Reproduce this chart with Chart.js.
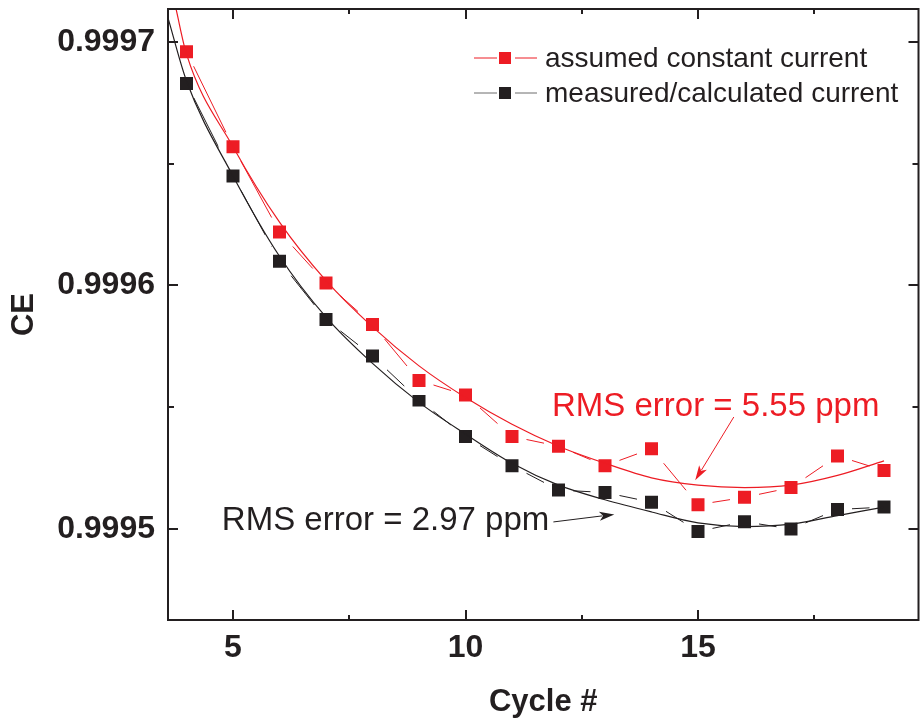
<!DOCTYPE html>
<html>
<head>
<meta charset="utf-8">
<title>CE vs cycle</title>
<script src="https://cdn.jsdelivr.net/npm/chart.js@4.4.1/dist/chart.umd.min.js"></script>
<style>
  html, body { margin: 0; padding: 0; background: #fff; }
  #wrap { width: 920px; height: 721px; }
</style>
</head>
<body>
<div id="wrap"><canvas id="chart" width="920" height="721"></canvas></div>
<script>
// measured points
const cycles = [4, 5, 6, 7, 8, 9, 10, 11, 12, 13, 14, 15, 16, 17, 18, 19];
const ceConstant = [0.999696, 0.999657, 0.999622, 0.999601, 0.999584, 0.999561, 0.999555, 0.999538,
                    0.999534, 0.999526, 0.999533, 0.999510, 0.999513, 0.999517, 0.999530, 0.999524];
const ceMeasured = [0.999683, 0.999645, 0.999610, 0.999586, 0.999571, 0.999553, 0.999538, 0.999526,
                    0.999516, 0.999515, 0.999511, 0.999499, 0.999503, 0.999500, 0.999508, 0.999509];

// fitted curves
const fitConstantX = [3.77, 4, 5, 6, 7, 8, 9, 10, 11, 12, 13, 14, 15, 16, 17, 18, 19];
const fitConstantY = [0.999714, 0.999695, 0.999657, 0.999626, 0.999602, 0.999583, 0.999567, 0.999554,
                      0.999543, 0.999534, 0.999527, 0.999521, 0.999518, 0.999517, 0.999518, 0.999522, 0.999528];
const fitMeasuredX = [3.6, 4, 5, 6, 7, 8, 9, 10, 11, 12, 13, 14, 15, 16, 17, 18, 19];
const fitMeasuredY = [0.999710, 0.999684, 0.999645, 0.999612, 0.999587, 0.999568, 0.999552, 0.999539,
                      0.999527, 0.999518, 0.999512, 0.999507, 0.9995025, 0.999501, 0.999502, 0.9995055, 0.999509];

// axis ticks
const xMajor = [5, 10, 15];
const xMinor = [7.5, 12.5, 17.5];
const yMajor = [0.9995, 0.9996, 0.9997];
const yMajorLabels = ['0.9995', '0.9996', '0.9997'];
const yMinor = [0.99955, 0.99965];

const RED = '#ed1c24';
const INK = '#231f20';
const FONT = '"Liberation Sans", Arial, Helvetica, sans-serif';

const toPoints = (xs, ys) => xs.map((x, i) => ({ x, y: ys[i] }));

function tickList(major, minor) {
  return major.map((v) => ({ value: v, major: true }))
    .concat(minor.map((v) => ({ value: v, major: false })))
    .sort((a, b) => a.value - b.value);
}

// annotations in data coordinates
const notes = [
  { text: 'RMS error = 5.55 ppm', color: RED, at: [11.86, 0.99955], from: [15.77, 0.999546], to: [14.94, 0.99952] },
  { text: 'RMS error = 2.97 ppm', color: INK, at: [4.76, 0.9995033], from: [11.89, 0.9995029], to: [13.2, 0.999506] },
];

const legendItems = [
  { label: 'assumed constant current', color: RED, line: RED },
  { label: 'measured/calculated current', color: INK, line: '#6d6d6d' },
];

function arrow(ctx, x0, y0, x1, y1, color) {
  const ang = Math.atan2(y1 - y0, x1 - x0);
  const len = 15, half = 4.5;
  ctx.strokeStyle = color;
  ctx.fillStyle = color;
  ctx.lineWidth = 1;
  ctx.beginPath();
  ctx.moveTo(x0, y0);
  ctx.lineTo(x1 - Math.cos(ang) * len * 0.8, y1 - Math.sin(ang) * len * 0.8);
  ctx.stroke();
  ctx.beginPath();
  ctx.moveTo(x1, y1);
  ctx.lineTo(x1 - Math.cos(ang) * len - Math.sin(ang) * half, y1 - Math.sin(ang) * len + Math.cos(ang) * half);
  ctx.lineTo(x1 - Math.cos(ang) * len * 0.75, y1 - Math.sin(ang) * len * 0.75);
  ctx.lineTo(x1 - Math.cos(ang) * len + Math.sin(ang) * half, y1 - Math.sin(ang) * len - Math.cos(ang) * half);
  ctx.closePath();
  ctx.fill();
}

const framePlugin = {
  id: 'frame',
  afterDraw(chart) {
    const { ctx, chartArea: a, scales: { x, y } } = chart;
    ctx.save();

    // box with inward ticks on all sides
    ctx.strokeStyle = INK;
    ctx.lineWidth = 2;
    ctx.strokeRect(a.left, a.top, a.right - a.left, a.bottom - a.top);
    ctx.beginPath();
    x.ticks.forEach((t) => {
      const px = Math.round(x.getPixelForValue(t.value));
      const len = t.major ? 10 : 5;
      ctx.moveTo(px, a.bottom); ctx.lineTo(px, a.bottom - len);
      ctx.moveTo(px, a.top); ctx.lineTo(px, a.top + len);
    });
    y.ticks.forEach((t) => {
      const py = Math.round(y.getPixelForValue(t.value));
      const len = t.major ? 10 : 6;
      ctx.moveTo(a.left, py); ctx.lineTo(a.left + len, py);
      ctx.moveTo(a.right, py); ctx.lineTo(a.right - len, py);
    });
    ctx.stroke();

    // legend
    ctx.font = '28px ' + FONT;
    ctx.textBaseline = 'middle';
    ctx.textAlign = 'left';
    legendItems.forEach((it, i) => {
      const ly = a.top + 49 + i * 35;
      const lx = a.left + 306;
      ctx.strokeStyle = it.line;
      ctx.lineWidth = 1;
      ctx.beginPath();
      ctx.moveTo(lx, ly); ctx.lineTo(lx + 23, ly);
      ctx.moveTo(lx + 41, ly); ctx.lineTo(lx + 63, ly);
      ctx.stroke();
      ctx.fillStyle = it.color;
      ctx.fillRect(lx + 25, ly - 6, 12, 12);
      ctx.fillStyle = INK;
      ctx.fillText(it.label, lx + 71, ly + 1);
    });

    // RMS notes and arrows
    ctx.font = '33px ' + FONT;
    notes.forEach((n) => {
      ctx.fillStyle = n.color;
      ctx.fillText(n.text, x.getPixelForValue(n.at[0]), y.getPixelForValue(n.at[1]));
      arrow(ctx,
        x.getPixelForValue(n.from[0]), y.getPixelForValue(n.from[1]),
        x.getPixelForValue(n.to[0]), y.getPixelForValue(n.to[1]), n.color);
    });
    ctx.restore();
  },
};

const dataStyle = (color) => ({
  borderColor: color,
  borderWidth: 1,
  pointStyle: 'rect',
  pointRadius: 14.85,
  pointBorderWidth: 8,
  pointBorderColor: '#fff',
  pointBackgroundColor: color,
  order: 1,
});

const fitStyle = (color) => ({
  borderColor: color,
  borderWidth: 1.2,
  pointRadius: 0,
  cubicInterpolationMode: 'monotone',
  order: 0,
});

new Chart(document.getElementById('chart'), {
  type: 'line',
  data: {
    datasets: [
      { label: 'assumed constant current', data: toPoints(cycles, ceConstant), ...dataStyle(RED) },
      { label: 'measured/calculated current', data: toPoints(cycles, ceMeasured), ...dataStyle(INK) },
      { label: 'fit constant', data: toPoints(fitConstantX, fitConstantY), ...fitStyle(RED) },
      { label: 'fit measured', data: toPoints(fitMeasuredX, fitMeasuredY), ...fitStyle(INK) },
    ],
  },
  options: {
    responsive: false,
    animation: false,
    layout: { autoPadding: false, padding: { top: 9, right: 1.5, left: 0, bottom: 0 } },
    plugins: { legend: { display: false }, tooltip: { enabled: false } },
    scales: {
      x: {
        type: 'linear',
        min: 3.602,
        max: 19.742,
        grid: { display: false, drawTicks: false },
        border: { display: false },
        afterBuildTicks: (s) => { s.ticks = tickList(xMajor, xMinor); },
        afterFit: (s) => { s.height = 101; s.paddingLeft = 0; s.paddingRight = 0; },
        ticks: {
          autoSkip: false,
          maxRotation: 0,
          padding: 9,
          color: INK,
          font: { family: FONT, size: 32, weight: 'bold' },
          callback: (v, i, ticks) => (ticks[i].major ? String(v) : ''),
        },
        title: {
          display: true,
          text: 'Cycle #',
          color: INK,
          padding: { top: 0, bottom: 0 },
          font: { family: FONT, size: 31, weight: 'bold' },
        },
      },
      y: {
        type: 'linear',
        min: 0.99946263,
        max: 0.99971355,
        grid: { display: false, drawTicks: false },
        border: { display: false },
        afterBuildTicks: (s) => { s.ticks = tickList(yMajor, yMinor); },
        afterFit: (s) => { s.width = 168; s.paddingTop = 0; s.paddingBottom = 0; },
        ticks: {
          autoSkip: false,
          padding: 13,
          color: INK,
          font: { family: FONT, size: 32, weight: 'bold' },
          callback: (v, i, ticks) => {
            if (!ticks[i].major) return '';
            const k = yMajor.findIndex((m) => Math.abs(m - v) < 1e-9);
            return k >= 0 ? yMajorLabels[k] : '';
          },
        },
        title: {
          display: true,
          text: 'CE',
          color: INK,
          padding: { top: 6, bottom: 0 },
          font: { family: FONT, size: 31, weight: 'bold' },
        },
      },
    },
  },
  plugins: [framePlugin],
});
</script>
</body>
</html>
